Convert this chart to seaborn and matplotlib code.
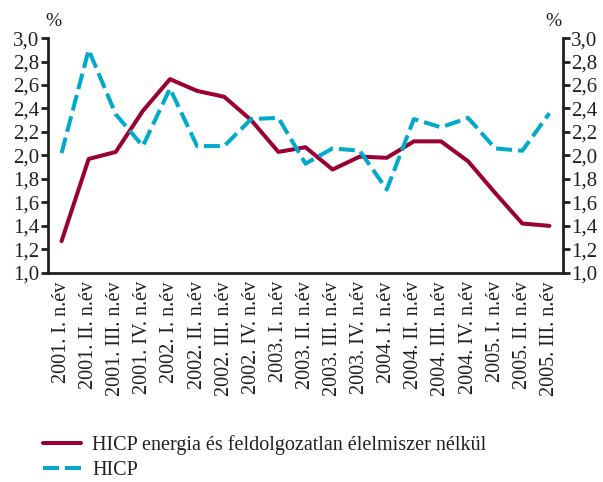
import numpy as np
import pandas as pd
import matplotlib
matplotlib.use("Agg")
import matplotlib.pyplot as plt
from matplotlib.ticker import FixedLocator, FuncFormatter
import seaborn as sns

categories = ["2001. I. n.év", "2001. II. n.év", "2001. III. n.év", "2001. IV. n.év",
              "2002. I. n.év", "2002. II. n.év", "2002. III. n.év", "2002. IV. n.év",
              "2003. I. n.év", "2003. II. n.év", "2003. III. n.év", "2003. IV. n.év",
              "2004. I. n.év", "2004. II. n.év", "2004. III. n.év", "2004. IV. n.év",
              "2005. I. n.év", "2005. II. n.év", "2005. III. n.év"]
core = [1.27, 1.97, 2.03, 2.38, 2.65, 2.55, 2.50, 2.30, 2.03, 2.07, 1.88, 1.99,
        1.98, 2.12, 2.12, 1.95, 1.68, 1.42, 1.40]
hicp = [2.02, 2.90, 2.35, 2.08, 2.57, 2.08, 2.08, 2.31, 2.32, 1.93, 2.06, 2.04,
        1.71, 2.31, 2.24, 2.32, 2.06, 2.04, 2.36]
label_core = "HICP energia és feldolgozatlan élelmiszer nélkül"
label_hicp = "HICP"
yticks = [1.0, 1.2, 1.4, 1.6, 1.8, 2.0, 2.2, 2.4, 2.6, 2.8, 3.0]

sns.set_style("white")
plt.rcParams['font.family'] = ['Liberation Serif', 'DejaVu Serif']

RED = "#9B0034"
CYAN = "#00AACB"
INK = "#231F20"

df = pd.DataFrame({"x": np.arange(len(categories)), "core": core, "hicp": hicp})

fig = plt.figure(figsize=(6.03, 4.82), dpi=100)
ax = fig.add_axes([0.0796, 0.434, 0.854, 0.487])

sns.lineplot(data=df, x="x", y="core", ax=ax, color=RED, lw=2.9, label=label_core, legend=False)
sns.lineplot(data=df, x="x", y="hicp", ax=ax, color=CYAN, lw=2.9, label=label_hicp, legend=False)
ax.lines[1].set_dashes([3.97, 1.5])

n = len(categories)
ax.set_xlim(-0.5, n - 0.5)
ax.set_ylim(1.0, 3.0)
ax.set_xlabel("")
ax.set_ylabel("")

ax.xaxis.set_major_locator(FixedLocator(np.arange(n + 1) - 0.5))
ax.xaxis.set_minor_locator(FixedLocator(np.arange(n)))
ax.set_xticklabels([""] * (n + 1))
ax.set_xticklabels(categories, minor=True, rotation=90, fontsize=14.5, color=INK)
ax.tick_params(axis="x", which="major", length=6, width=2, direction="out", color=INK)
ax.tick_params(axis="x", which="minor", length=0, pad=6)

fmt = FuncFormatter(lambda v, p: f"{v:.1f}".replace(".", ","))
ax.set_yticks(yticks)
ax.yaxis.set_major_formatter(fmt)
ax.tick_params(axis="y", length=5, width=2, direction="out", labelsize=15, pad=1, color=INK, labelcolor=INK)

ax2 = ax.twinx()
ax2.set_ylim(1.0, 3.0)
ax2.set_yticks(yticks)
ax2.yaxis.set_major_formatter(fmt)
ax2.tick_params(axis="y", length=5, width=2, direction="out", labelsize=15, pad=1, color=INK, labelcolor=INK)

for a in (ax, ax2):
    a.spines["top"].set_visible(False)
    for s in ("left", "right", "bottom"):
        a.spines[s].set_linewidth(2)
        a.spines[s].set_color(INK)
ax2.spines["left"].set_visible(False)
ax2.spines["bottom"].set_visible(False)
ax.spines["right"].set_visible(False)

fig.text(0.088, 0.955, "%", fontsize=14, ha="center", va="center", color=INK)
fig.text(0.917, 0.955, "%", fontsize=14, ha="center", va="center", color=INK)

handles = ax.lines[:2]
leg = fig.legend(handles, [label_core, label_hicp], loc="upper left",
                 bbox_to_anchor=(0.071, 0.098), frameon=False, fontsize=14.5,
                 handlelength=1.9, handletextpad=0.55, labelspacing=0.33,
                 borderaxespad=0, borderpad=0)
for t in leg.get_texts():
    t.set_color(INK)

fig.savefig("out.png", dpi=100)
